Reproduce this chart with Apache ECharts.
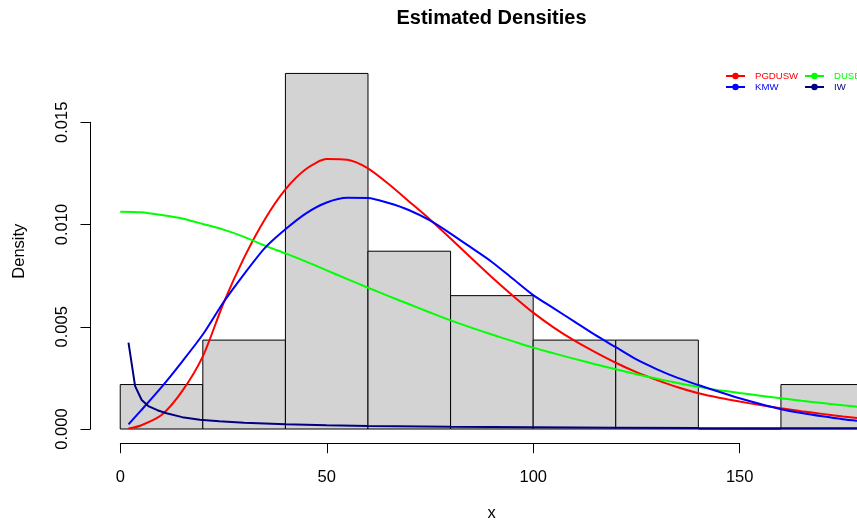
<!DOCTYPE html>
<html>
<head>
<meta charset="utf-8">
<script src="https://cdn.jsdelivr.net/npm/echarts@6/dist/echarts.min.js"></script>
<style>
  html, body { margin: 0; padding: 0; background: #ffffff; }
  #chart { width: 857px; height: 527px; }
</style>
</head>
<body>
<div id="chart"></div>
<script>
// Histogram bins and their density heights
const binStarts = [0, 20, 40, 60, 80, 100, 120, 140, 160];
const binEnds = [20, 40, 60, 80, 100, 120, 140, 160, 180];
const binDensity = [0.002174, 0.004348, 0.017391, 0.008696, 0.006522, 0.004348, 0.004348, 0, 0.002174];

// Evaluation grid shared by the PGDUSW and KMW curves
const curveX = [2, 5, 10, 15, 20, 25, 30, 35, 40, 45, 50, 55, 60, 65, 70, 75, 80, 85, 90, 95,
  100, 105, 110, 115, 120, 125, 130, 135, 140, 145, 150, 155, 160, 165, 170, 175, 180];
const pgdusw = [0.00002, 0.00017, 0.00068, 0.00185, 0.00355, 0.00615, 0.00838, 0.01025, 0.01172, 0.01272,
  0.01320, 0.01317, 0.01275, 0.01198, 0.01112, 0.01025, 0.00932, 0.00836, 0.00742, 0.00653,
  0.00569, 0.00496, 0.00432, 0.00376, 0.00324, 0.00278, 0.00239, 0.00204, 0.00175, 0.00153,
  0.00134, 0.00117, 0.00101, 0.00087, 0.00074, 0.00061, 0.00050];
const kmw = [0.00023, 0.00090, 0.00205, 0.00330, 0.00462, 0.00620, 0.00758, 0.00885, 0.00977, 0.01055,
  0.01108, 0.01131, 0.01130, 0.01105, 0.01070, 0.01020, 0.00956, 0.00887, 0.00817, 0.00736,
  0.00655, 0.00590, 0.00525, 0.00460, 0.00400, 0.00340, 0.00292, 0.00250, 0.00215, 0.00182,
  0.00150, 0.00122, 0.00097, 0.00078, 0.00062, 0.00048, 0.00037];

// DUSE curve starts at zero
const duseX = [0, 5, 10, 15, 20, 25, 30, 35, 40, 45, 50, 55, 60, 65, 70, 75, 80, 85, 90, 95,
  100, 105, 110, 115, 120, 125, 130, 135, 140, 145, 150, 155, 160, 165, 170, 175, 180];
const duse = [0.01063, 0.01060, 0.01047, 0.01030, 0.01003, 0.00975, 0.00940, 0.00897, 0.00859, 0.00819,
  0.00776, 0.00733, 0.00691, 0.00650, 0.00610, 0.00570, 0.00531, 0.00496, 0.00462, 0.00430,
  0.00398, 0.00370, 0.00343, 0.00317, 0.00292, 0.00268, 0.00246, 0.00225, 0.00206, 0.00190,
  0.00176, 0.00163, 0.00150, 0.00138, 0.00127, 0.00116, 0.00106];

// IW curve, denser near the sharp drop
const iwX = [2, 3.6, 5.2, 6.8, 9, 11.2, 15, 19.3, 24, 30, 40, 50, 60, 80, 100, 120, 140, 160, 180];
const iw = [0.00422, 0.00210, 0.00142, 0.00112, 0.00092, 0.00077, 0.00058, 0.00045, 0.00038, 0.00031,
  0.00023, 0.00018, 0.00015, 0.00011, 0.00008, 0.000065, 0.00005, 0.00004, 0.000035];

const xTickMin = 0, xTickMax = 150, xTickStep = 50;
const yTickMin = 0, yTickMax = 0.015, yTickStep = 0.005;

const FONT = "'Liberation Sans', Arial, Helvetica, sans-serif";
const pair = (xs, ys) => xs.map((x, i) => [x, ys[i]]);

const chart = echarts.init(document.getElementById('chart'), null, { renderer: 'canvas' });

const hiddenAxis = {
  axisLine: { show: false, onZero: false }, axisTick: { show: false },
  axisLabel: { show: false }, splitLine: { show: false }
};

function lineSeries(name, color, data, smooth) {
  return {
    name, type: 'line', xAxisIndex: 0, yAxisIndex: 0,
    data, smooth, symbol: 'circle', symbolSize: 6, showSymbol: false,
    lineStyle: { color, width: 2 }, itemStyle: { color },
    emphasis: { disabled: true }, silent: true, z: 3
  };
}

const axisTitleStyle = { fontFamily: FONT, fontSize: 16.5, color: '#000' };

chart.setOption({
  animation: false,
  backgroundColor: '#ffffff',
  textStyle: { fontFamily: FONT },
  title: {
    text: 'Estimated Densities',
    left: 486.5, top: 3, textAlign: 'center',
    textStyle: { fontFamily: FONT, fontWeight: 'bold', fontSize: 20, color: '#000' }
  },
  legend: [
    {
      left: 720, top: 66, orient: 'vertical', itemWidth: 19, itemHeight: 8, itemGap: 1,
      data: [
        { name: 'PGDUSW', textStyle: { color: '#ff0000' } },
        { name: 'KMW', textStyle: { color: '#0000ff' } }
      ],
      textStyle: { fontFamily: FONT, fontSize: 9.6, padding: [0, 0, 0, 5] }
    },
    {
      left: 799, top: 66, orient: 'vertical', itemWidth: 19, itemHeight: 8, itemGap: 1,
      data: [
        { name: 'DUSE', textStyle: { color: '#00ff00' } },
        { name: 'IW', textStyle: { color: '#000080' } }
      ],
      textStyle: { fontFamily: FONT, fontSize: 9.6, padding: [0, 0, 0, 5] }
    }
  ],
  grid: [
    // data area: y from 0 up to the top of the plotting region
    { left: 90.5, top: 59.2, right: 0, height: 369.8 },
    // x axis ticks
    { left: 120.3, top: 442.2, width: 619.4, height: 1 },
    // y axis ticks
    { left: 90.5, top: 122.3, width: 1, height: 306.7 },
    // full plotting region height, carries the y title
    { left: 90.5, top: 59.2, right: 0, height: 384 },
    // band centred under the plotting region, carries the x title
    { left: 126, top: 59.2, right: 0, height: 384 }
  ],
  xAxis: [
    Object.assign({ gridIndex: 0, type: 'value', min: -7.2, max: 178.42 }, hiddenAxis),
    {
      gridIndex: 1, type: 'value', min: xTickMin, max: xTickMax, interval: xTickStep,
      position: 'bottom',
      axisLine: { show: true, onZero: false, lineStyle: { color: '#000', width: 1 } },
      axisTick: { show: true, length: 10, lineStyle: { color: '#000', width: 1 } },
      axisLabel: { show: true, margin: 26, color: '#000', fontSize: 16.5, fontFamily: FONT },
      splitLine: { show: false }
    },
    Object.assign({ gridIndex: 2, type: 'value', min: 0, max: 1 }, hiddenAxis),
    Object.assign({ gridIndex: 3, type: 'value', min: 0, max: 1 }, hiddenAxis),
    Object.assign({ gridIndex: 4, type: 'value', min: 0, max: 1, position: 'bottom',
      name: 'x', nameLocation: 'middle', nameGap: 74,
      nameTextStyle: Object.assign({ lineHeight: 10, verticalAlign: 'middle' }, axisTitleStyle) }, hiddenAxis)
  ],
  yAxis: [
    Object.assign({ gridIndex: 0, type: 'value', min: 0, max: 0.018087 }, hiddenAxis),
    Object.assign({ gridIndex: 1, type: 'value', min: 0, max: 1 }, hiddenAxis),
    {
      gridIndex: 2, type: 'value', min: yTickMin, max: yTickMax, interval: yTickStep,
      position: 'left',
      axisLine: { show: true, onZero: false, lineStyle: { color: '#000', width: 1 } },
      axisTick: { show: true, length: 10, lineStyle: { color: '#000', width: 1 } },
      axisLabel: { show: true, rotate: 90, margin: 20, color: '#000', fontSize: 16.5, fontFamily: FONT,
        formatter: v => v.toFixed(3) },
      splitLine: { show: false }
    },
    Object.assign({ gridIndex: 3, type: 'value', min: 0, max: 1, position: 'left',
      name: 'Density', nameLocation: 'middle', nameGap: 63, nameRotate: 90,
      nameTextStyle: axisTitleStyle }, hiddenAxis),
    Object.assign({ gridIndex: 4, type: 'value', min: 0, max: 1 }, hiddenAxis)
  ],
  series: [
    {
      type: 'custom', name: 'hist', xAxisIndex: 0, yAxisIndex: 0, silent: true, z: 1, clip: false,
      data: binStarts.map((s, i) => [s, binEnds[i], binDensity[i]]),
      renderItem: (params, api) => {
        const p0 = api.coord([api.value(0), 0]);
        const p1 = api.coord([api.value(1), api.value(2)]);
        return {
          type: 'rect',
          shape: { x: p0[0], y: p1[1], width: p1[0] - p0[0], height: p0[1] - p1[1] },
          style: { fill: '#d3d3d3', stroke: '#000', lineWidth: 1 }
        };
      }
    },
    lineSeries('PGDUSW', '#ff0000', pair(curveX, pgdusw), 0.25),
    lineSeries('DUSE', '#00ff00', pair(duseX, duse), 0.25),
    lineSeries('KMW', '#0000ff', pair(curveX, kmw), 0.25),
    lineSeries('IW', '#000080', pair(iwX, iw), false)
  ]
});
</script>
</body>
</html>
